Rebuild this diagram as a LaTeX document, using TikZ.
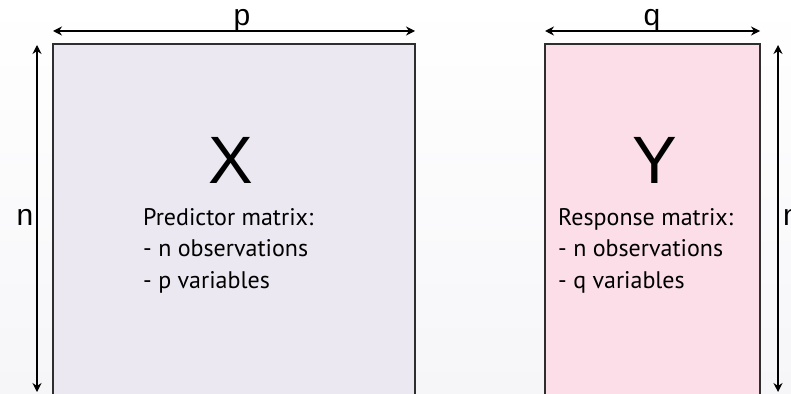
\documentclass[tikz,border=0pt]{standalone}
\usepackage{fontspec}
\setmainfont{PT Sans}
\newfontfamily\labelfont{Liberation Sans}
\usetikzlibrary{arrows.meta}
\definecolor{predfill}{HTML}{EBE8F1}
\definecolor{respfill}{HTML}{FBDEE8}
\definecolor{edgegray}{HTML}{2E2E2E}
\definecolor{bglow}{HTML}{F6F6F9}
\begin{document}
\begin{tikzpicture}[x=1pt,y=-1pt,
  matbox/.style={draw=edgegray, line width=1.3pt, inner sep=0pt},
  dimline/.style={black, line width=1.3pt,
    {Stealth[length=9pt,width=9pt]}-{Stealth[length=9pt,width=9pt]}},
  dimlabel/.style={font=\labelfont\fontsize{30}{30}\selectfont, inner sep=0pt, anchor=base},
  bigletter/.style={font=\labelfont\fontsize{67}{67}\selectfont, inner sep=0pt, anchor=base},
  desc/.style={font=\fontsize{24}{31.5}\selectfont, align=left, inner sep=0pt, anchor=base west}]
\useasboundingbox (0,0) rectangle (791,393);
\clip (0,0) rectangle (791,393);
% faint backdrop
\shade[top color=white, bottom color=bglow] (0,0) rectangle (791,393);

% the two matrices
\draw[matbox, fill=predfill] (53,44) coordinate (xtl) rectangle (415,430) coordinate (xbr);
\draw[matbox, fill=respfill] (545,44) coordinate (ytl) rectangle (760,430) coordinate (ybr);

\node[bigletter] (xname) at (231,183) {X};
\node[bigletter] (yname) at (655,183) {Y};

% the anchor sits on the baseline of the last line
\node[desc] (xdesc) at (143,288) {Predictor matrix:\\- n observations\\- p variables};
\node[desc] (ydesc) at (558,288) {Response matrix:\\- n observations\\- q variables};

% dimension arrows
\coordinate (pl) at (53,31);  \coordinate (pr) at (415,31);
\coordinate (ql) at (545,31); \coordinate (qr) at (760,31);
\coordinate (nlt) at (37,45);  \coordinate (nlb) at (37,392);
\coordinate (nrt) at (778,45); \coordinate (nrb) at (778,392);

\draw[dimline] (pl) -- (pr);
\draw[dimline] (ql) -- (qr);
\draw[dimline] (nlt) -- (nlb);
\draw[dimline] (nrt) -- (nrb);

\node[dimlabel] (plabel) at (242,26) {p};
\node[dimlabel] (qlabel) at (652,26) {q};
\node[dimlabel] (nlleft) at (25,225) {n};
\node[dimlabel, anchor=base west] (nlright) at (783,225) {n};
\end{tikzpicture}
\end{document}
